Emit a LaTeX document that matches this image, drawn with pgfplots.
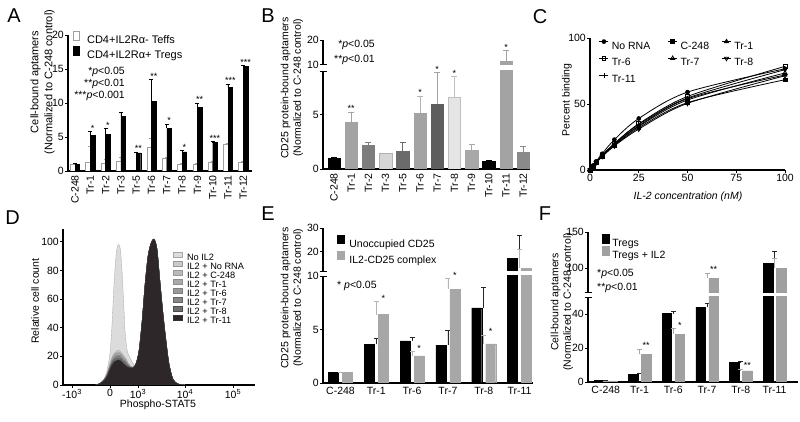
\documentclass[border=0pt]{standalone}
\usepackage{fontspec}
\setmainfont{Liberation Sans}
\usepackage{pgfplots}
\pgfplotsset{compat=1.18}
\usepackage{pgfplotstable}

\definecolor{bA}{HTML}{A3A3A3}
\definecolor{bB}{HTML}{7D7D7D}
\definecolor{bC}{HTML}{D6D6D6}
\definecolor{bD}{HTML}{6B6B6B}
\definecolor{bE}{HTML}{5E5E5E}
\definecolor{bF}{HTML}{E5E5E5}
\definecolor{bG}{HTML}{A8A8A8}
\definecolor{bH}{HTML}{8A8A8A}
\definecolor{gE}{HTML}{A7A7A7}
\definecolor{gEe}{HTML}{B5B5B5}
\definecolor{gF}{HTML}{A0A0A0}
\definecolor{gFe}{HTML}{A8A8A8}
\definecolor{h0}{HTML}{DCDCDC}
\definecolor{h1}{HTML}{CACACA}
\definecolor{h2}{HTML}{BABABA}
\definecolor{h3}{HTML}{A9A9A9}
\definecolor{h4}{HTML}{989898}
\definecolor{h5}{HTML}{888888}
\definecolor{h6}{HTML}{6E6E6E}
\definecolor{h7}{HTML}{2E2729}

\pgfplotsset{
  base/.style={scale only axis, anchor=south west, axis x line*=bottom, axis y line*=left,
    axis line style={line width=1.1pt, black}, tick style={line width=0.9pt, black},
    major tick length=3pt, tick align=outside,
    tick label style={font=\fontsize{10.5}{12}\selectfont, inner sep=1pt},
    /pgf/number format/assume math mode=true, legend cell align=left},
  errb/.style 2 args={/pgfplots/error bars/y dir=plus, /pgfplots/error bars/y explicit,
    /pgfplots/error bars/error bar style={line width=0.8pt, color=#1},
    /pgfplots/error bars/error mark options={rotate=90, mark size=#2, line width=0.8pt, color=#1}},
  stars/.style={draw=none, mark=none, forget plot, nodes near coords, point meta=explicit symbolic,
    nodes near coords style={anchor=south, inner sep=0pt, font=\fontsize{9}{9}\selectfont, text=black, xshift=#1}},
  cap/.style={extra y ticks={#1}, extra y tick labels={}, extra y tick style={tick align=center, major tick length=7pt}},
}

\pgfplotstableread{
x n a b c d e f g
-14 0 0 0 0 0 0 0 0
-10 1 1.4 1.3 1.3 1.2 1.1 1.1 1
-6 4 4.1 3.9 3.8 3.6 3.4 3.2 3
-3 10 8.2 7.9 7.6 7.2 6.8 6.5 6
0 22 15.1 14.4 13.9 13.2 12.5 11.9 11
2 42 19.2 18.3 17.6 16.8 16 15.1 14
4 70 21.9 21 20.2 19.2 18.2 17.3 16
6 90 23.3 22.3 21.4 20.4 19.4 18.4 17
7.5 97 24 22.9 22 21 20 18.9 17.5
9 98 24 22.9 22 21 20 18.9 17.5
10.5 94 23.3 22.3 21.4 20.4 19.4 18.4 17
12 80 21.9 21 20.2 19.2 18.2 17.3 16
13.5 60 20.6 19.7 18.9 18 17.1 16.2 15
15 38 19.2 18.3 17.6 16.8 16 15.1 14
16.5 27 17.8 17 16.4 15.6 14.8 14 13
18 22 15.5 15 14.6 14.2 13.8 13.2 12.5
20 19 13.5 13.3 13.1 12.9 12.6 12.3 12
23 15 12.5 12.4 12.3 12.2 12.1 12 12
26 11 15 15 15 15 15 15 15
29 8 24 24 24 24 24 24 24
32 6 44 44 44 44 44 44 44
35 4.5 70 70 70 70 70 70 70
38 3.5 90 90 90 90 90 90 90
41 2.5 99 99 99 99 99 99 99
44 2 102 102 102 102 102 102 102
47 1.5 95 95 95 95 95 95 95
50 1.2 72 72 72 72 72 72 72
53 1 50 50 50 50 50 50 50
56 0.8 31 31 31 31 31 31 31
59 0.5 15 15 15 15 15 15 15
63 0.3 4 4 4 4 4 4 4
68 0.1 0.8 0.8 0.8 0.8 0.8 0.8 0.8
75 0 0 0 0 0 0 0 0
}\histD

\begin{document}
\begin{tikzpicture}
\useasboundingbox (0,0) rectangle (800pt,422pt);

% ================= A =================
\begin{axis}[base, at={(68pt,251pt)}, width=184pt, height=136pt,
  xmin=-0.4575, xmax=11.569, ymin=0, ymax=20, ytick={0,5,10,15,20},
  xtick={0,...,11}, xticklabels={C-248,Tr-1,Tr-2,Tr-3,Tr-5,Tr-6,Tr-7,Tr-8,Tr-9,Tr-10,Tr-11,Tr-12},
  xticklabel style={rotate=90, anchor=east}, xtick style={draw=none},
  legend style={at={(axis description cs:0.0245,1.029)}, anchor=north west, draw=none, fill=none,
    inner sep=0pt, outer sep=0pt, row sep=2pt, font=\fontsize{11}{12}\selectfont,
    nodes={inner sep=0pt, text height=8pt, text depth=0pt}},
  legend image code/.code={\draw[#1] (0pt,-0.5pt) rectangle (6pt,8.5pt); \path (14pt,0pt);}]
\addplot[ybar, bar width=4.5pt, bar shift=-2.3pt, fill=white, draw=gray!75, line width=0.6pt, errb={gray!75}{2pt}]
  coordinates {(0,1.0)+-(0,0.05) (1,1.33)+-(0,2.3) (2,1.2)+-(0,0.45) (3,1.4)+-(0,0.6) (5,3.5)+-(0,1.3) (6,1.8)+-(0,0.2) (7,1.05)+-(0,0.05) (8,1.05)+-(0,0.05) (9,1.3)+-(0,0.05) (10,3.9)+-(0,0.2) (11,1.3)+-(0,0.05)};
\addlegendentry{CD4+IL2Rα- Teffs}
\addplot[ybar, bar width=4.5pt, bar shift=2.3pt, fill=black, draw=black, line width=0.4pt, errb={black}{2pt}]
  coordinates {(0,1.0)+-(0,0.05) (1,5.25)+-(0,0.6) (2,5.35)+-(0,0.9) (3,8.05)+-(0,0.5) (4,2.65)+-(0,0.15) (5,10.2)+-(0,3.2) (6,6.25)+-(0,0.65) (7,2.8)+-(0,0.25) (8,9.35)+-(0,0.65) (9,4.2)+-(0,0.1) (10,12.3)+-(0,0.5) (11,15.4)+-(0,0.1)};
\addlegendentry{CD4+IL2Rα+ Tregs}
\addplot[stars=2.3pt] coordinates {(1,5.85)[*] (2,6.25)[*] (4,2.8)[**] (5,13.4)[**] (6,6.9)[*] (7,3.05)[*] (8,10.0)[**] (9,4.3)[***] (10,12.8)[***] (11,15.5)[***]};
\end{axis}

% ================= B lower =================
\begin{axis}[base, at={(323pt,253pt)}, width=207pt, height=98pt,
  xmin=-0.64, xmax=11.395, ymin=0, ymax=9, ytick={0,5}, cap=9,
  xtick={0,...,11}, xticklabels={C-248,Tr-1,Tr-2,Tr-3,Tr-5,Tr-6,Tr-7,Tr-8,Tr-9,Tr-10,Tr-11,Tr-12},
  xticklabel style={rotate=90, anchor=east}, xtick style={draw=none}]
\addplot[ybar, bar width=12.5pt, bar shift=0pt, fill=black, draw=black, errb={black}{3pt}] coordinates {(0,1.0)+-(0,0.03)};
\addplot[ybar, bar width=12.5pt, bar shift=0pt, fill=bA, draw=bA, errb={bA}{3pt}] coordinates {(1,4.33)+-(0,0.91)};
\addplot[ybar, bar width=12.5pt, bar shift=0pt, fill=bB, draw=bB, errb={bB}{3pt}] coordinates {(2,2.15)+-(0,0.27)};
\addplot[ybar, bar width=12.5pt, bar shift=0pt, fill=bC, draw=gray!60, errb={gray!60}{3pt}] coordinates {(3,1.45)+-(0,0.0)};
\addplot[ybar, bar width=12.5pt, bar shift=0pt, fill=bD, draw=bD, errb={bD}{3pt}] coordinates {(4,1.67)+-(0,0.75)};
\addplot[ybar, bar width=12.5pt, bar shift=0pt, fill=bA, draw=bA, errb={bA!80}{3pt}] coordinates {(5,5.1)+-(0,1.6)};
\addplot[ybar, bar width=12.5pt, bar shift=0pt, fill=bE, draw=bE, errb={bA}{3pt}] coordinates {(6,5.94)+-(0,2.94)};
\addplot[ybar, bar width=12.5pt, bar shift=0pt, fill=bF, draw=gray!50, errb={gray!50}{3pt}] coordinates {(7,6.6)+-(0,1.9)};
\addplot[ybar, bar width=12.5pt, bar shift=0pt, fill=bG, draw=bG, errb={bG}{3pt}] coordinates {(8,1.76)+-(0,0.54)};
\addplot[ybar, bar width=12.5pt, bar shift=0pt, fill=black, draw=black, errb={black}{3pt}] coordinates {(9,0.76)+-(0,0.0)};
\addplot[ybar, bar width=12.5pt, bar shift=0pt, fill=bA, draw=bA] coordinates {(10,11.3)};
\addplot[ybar, bar width=12.5pt, bar shift=0pt, fill=bH, draw=bH, errb={bH}{3pt}] coordinates {(11,1.55)+-(0,0.51)};
\addplot[stars=0pt] coordinates {(1,5.24)[**] (5,6.7)[*] (6,8.88)[*] (7,8.5)[*]};
\end{axis}
% ================= B upper =================
\begin{axis}[base, at={(323pt,357.5pt)}, width=207pt, height=24.5pt,
  xmin=-0.64, xmax=11.395, ymin=10, ymax=20, ytick={10,20}, cap=10, hide x axis]
\addplot[ybar, bar width=12.5pt, bar shift=0pt, fill=bA, draw=bA, errb={bA}{3pt}] coordinates {(10,11.3)+-(0,4.3)};
\addplot[stars=0pt] coordinates {(10,15.6)[*]};
\end{axis}

% ================= C =================
\begin{axis}[base, at={(590pt,252pt)}, width=195pt, height=132pt,
  xmin=0, xmax=100, ymin=0, ymax=100, xtick={0,25,50,75,100}, ytick={0,50,100},
  legend columns=3,
  legend style={at={(axis description cs:0.046,0.991)}, anchor=north west, draw=none, fill=none,
    inner sep=0pt, outer sep=0pt, row sep=6.9pt, font=\fontsize{10.5}{12}\selectfont,
    nodes={inner sep=0pt, text height=7.6pt, text depth=0pt}},
  legend image code/.code={\draw[mark repeat=2, mark phase=2, #1] plot coordinates {(0pt,3.7pt) (4.5pt,3.7pt) (9pt,3.7pt)}; \path (12pt,0pt);},
  every axis plot/.append style={black, line width=0.8pt, smooth, mark size=2pt, mark options={solid, line width=0.6pt}}]
\addplot[mark=*] coordinates {(0,0) (0.78,1.7) (1.56,3.3) (3.125,6.5) (6.25,12.3) (12.5,23) (25,39) (50,59) (100,76.7)};
\addlegendentry{\makebox[56pt][l]{No RNA}}
\addplot[mark=square*, mark size=1.9pt] coordinates {(0,0) (0.78,1.4) (1.56,2.8) (3.125,5.5) (6.25,10.3) (12.5,18.5) (25,32) (50,51) (100,68.4)};
\addlegendentry{\makebox[41pt][l]{C-248}}
\addplot[mark=triangle*, mark size=2.4pt] coordinates {(0,0) (0.78,1.5) (1.56,3) (3.125,5.8) (6.25,10.9) (12.5,19.5) (25,33.5) (50,54) (100,72)};
\addlegendentry{Tr-1}
\addplot[mark=square, mark size=1.9pt, mark options={fill=white}] coordinates {(0,0) (0.78,1.5) (1.56,3) (3.125,5.8) (6.25,11) (12.5,20) (25,35) (50,55.7) (100,78.5)};
\addlegendentry{\makebox[56pt][l]{Tr-6}}
\addplot[mark=triangle, mark size=2.4pt, mark options={fill=white}] coordinates {(0,0) (0.78,1.5) (1.56,2.9) (3.125,5.7) (6.25,10.8) (12.5,19.2) (25,33) (50,53) (100,73.5)};
\addlegendentry{\makebox[41pt][l]{Tr-7}}
\addplot[mark=triangle, mark size=2.4pt, mark options={fill=white, rotate=180}] coordinates {(0,0) (0.78,1.4) (1.56,2.7) (3.125,5.4) (6.25,10.2) (12.5,18.2) (25,31) (50,50.5) (100,71.4)};
\addlegendentry{Tr-8}
\addplot[mark=+, mark size=2.4pt] coordinates {(0,0) (0.78,1.5) (1.56,3) (3.125,5.9) (6.25,11) (12.5,20) (25,34.5) (50,54.5) (100,76)};
\addlegendentry{Tr-11}
\end{axis}

% ================= D =================
\begin{axis}[base, at={(63pt,37pt)}, width=192pt, height=156pt,
  xmin=-47, xmax=145, ymin=0, ymax=109, ytick={0,20,40,60,80,100},
  xtick={-38,0,28,75,123}, xticklabels={-10\textsuperscript{3},0,10\textsuperscript{3},10\textsuperscript{4},10\textsuperscript{5}},
  legend style={at={(axis description cs:0.573,0.855)}, anchor=north west, draw=none, fill=none,
    inner sep=0pt, outer sep=0pt, row sep=0.3pt, font=\fontsize{9.2}{10}\selectfont,
    nodes={inner sep=0pt, text height=6.5pt, text depth=0pt}},
  legend image code/.code={\draw[#1] (0pt,0pt) rectangle (8.5pt,5.3pt); \path (13.7pt,0pt);},
  every axis plot/.append style={smooth, line width=0.3pt}]
\addplot[fill=h0, draw=gray!70] table[x=x,y=n]{\histD} \closedcycle; \addlegendentry{No IL2}
\addplot[fill=h1, draw=gray!80] table[x=x,y=a]{\histD} \closedcycle; \addlegendentry{IL2 + No RNA}
\addplot[fill=h2, draw=gray!80] table[x=x,y=b]{\histD} \closedcycle; \addlegendentry{IL2 + C-248}
\addplot[fill=h3, draw=gray!90] table[x=x,y=c]{\histD} \closedcycle; \addlegendentry{IL2 + Tr-1}
\addplot[fill=h4, draw=gray] table[x=x,y=d]{\histD} \closedcycle; \addlegendentry{IL2 + Tr-6}
\addplot[fill=h5, draw=black!60] table[x=x,y=e]{\histD} \closedcycle; \addlegendentry{IL2 + Tr-7}
\addplot[fill=h6, draw=black!70] table[x=x,y=f]{\histD} \closedcycle; \addlegendentry{IL2 + Tr-8}
\addplot[fill=h7, draw=black!80] table[x=x,y=g]{\histD} \closedcycle; \addlegendentry{IL2 + Tr-11}
\end{axis}

% ================= E lower =================
\begin{axis}[base, at={(323pt,39pt)}, width=210pt, height=107pt,
  xmin=-0.489, xmax=5.377, ymin=0, ymax=10, ytick={0,5,10}, cap=10,
  xtick={0,...,5}, xticklabels={C-248,Tr-1,Tr-6,Tr-7,Tr-8,Tr-11}, xtick style={draw=none},
  legend style={at={(axis description cs:0.0667,1.3785)}, anchor=north west, draw=none, fill=none,
    inner sep=0pt, outer sep=0pt, row sep=4pt, font=\fontsize{10.5}{12}\selectfont,
    nodes={inner sep=0pt, text height=7.8pt, text depth=0pt}},
  legend image code/.code={\draw[#1] (0pt,-0.2pt) rectangle (6.5pt,7.8pt); \path (12pt,0pt);}]
\addplot[ybar, bar width=10pt, bar shift=-7pt, fill=black, draw=black, errb={black!85}{2.5pt}]
  coordinates {(0,1)+-(0,0) (1,3.6)+-(0,0.55) (2,3.94)+-(0,0.36) (3,3.53)+-(0,1.41) (4,7.03)+-(0,1.91)};
\addlegendentry{Unoccupied CD25}
\addplot[ybar, bar width=10pt, bar shift=7pt, fill=gE, draw=gE, errb={gEe}{2.5pt}]
  coordinates {(0,1)+-(0,0.02) (1,6.4)+-(0,1.2) (2,2.53)+-(0,0.44) (3,8.75)+-(0,1.03) (4,3.66)+-(0,0.81)};
\addlegendentry{IL2-CD25 complex}
\addplot[ybar, bar width=10pt, bar shift=-7pt, fill=black, draw=black, forget plot] coordinates {(5,17.5)};
\addplot[ybar, bar width=10pt, bar shift=7pt, fill=gE, draw=gE, forget plot] coordinates {(5,13.3)};
\addplot[stars=7pt] coordinates {(1,7.6)[*] (2,2.97)[*] (3,9.78)[*] (4,4.47)[*]};
\end{axis}
% ================= E upper =================
\begin{axis}[base, at={(323pt,151pt)}, width=210pt, height=43pt,
  xmin=-0.489, xmax=5.377, ymin=12, ymax=30, ytick={20,30}, cap=12, hide x axis]
\addplot[ybar, bar width=10pt, bar shift=-7pt, fill=black, draw=black, errb={black!85}{2.5pt}] coordinates {(5,17.5)+-(0,9.5)};
\addplot[ybar, bar width=10pt, bar shift=7pt, fill=gE, draw=gE, errb={gEe}{2.5pt}] coordinates {(5,13.3)+-(0,7.7)};
\end{axis}

% ================= F lower =================
\begin{axis}[base, at={(588pt,40pt)}, width=210pt, height=85pt,
  xmin=-0.526, xmax=5.696, ymin=0, ymax=50, ytick={0,20,40}, cap=50,
  xtick={0,...,5}, xticklabels={C-248,Tr-1,Tr-6,Tr-7,Tr-8,Tr-11}, xtick style={draw=none},
  legend style={at={(axis description cs:0.0667,1.747)}, anchor=north west, draw=none, fill=none,
    inner sep=0pt, outer sep=0pt, row sep=0pt, font=\fontsize{10.5}{12}\selectfont,
    nodes={inner sep=0pt, text height=7.8pt, text depth=0pt}},
  legend image code/.code={\draw[#1] (0pt,-0.5pt) rectangle (6.5pt,8.5pt); \path (10pt,0pt);}]
\addplot[ybar, bar width=9.5pt, bar shift=-6.5pt, fill=black, draw=black, errb={black!85}{2.5pt}]
  coordinates {(0,0.8)+-(0,0) (1,4.7)+-(0,0.3) (2,40.2)+-(0,1.6) (3,44.1)+-(0,1.9) (4,11.4)+-(0,0.6)};
\addlegendentry{Tregs}
\addplot[ybar, bar width=9.5pt, bar shift=6.5pt, fill=gF, draw=gF, errb={gFe}{2.5pt}]
  coordinates {(0,0.6)+-(0,0) (1,16.3)+-(0,3.1) (2,28.2)+-(0,3.4) (4,6.6)+-(0,1.0)};
\addlegendentry{Tregs + IL2}
\addplot[ybar, bar width=9.5pt, bar shift=-6.5pt, fill=black, draw=black, forget plot] coordinates {(5,107)};
\addplot[ybar, bar width=9.5pt, bar shift=6.5pt, fill=gF, draw=gF, forget plot] coordinates {(3,86) (5,100)};
\addplot[stars=6.5pt] coordinates {(1,19.4)[**] (2,31.6)[*] (4,7.6)[**]};
\end{axis}
% ================= F upper =================
\begin{axis}[base, at={(588pt,129.5pt)}, width=210pt, height=60.5pt,
  xmin=-0.526, xmax=5.696, ymin=66, ymax=150, ytick={100,150}, cap=66, hide x axis]
\addplot[ybar, bar width=9.5pt, bar shift=-6.5pt, fill=black, draw=black, errb={black!85}{2.5pt}] coordinates {(5,107)+-(0,16.6)};
\addplot[ybar, bar width=9.5pt, bar shift=6.5pt, fill=gF, draw=gF, errb={gFe}{2.5pt}] coordinates {(3,86)+-(0,7) (5,100)+-(0,14)};
\addplot[stars=6.5pt] coordinates {(3,93)[**]};
\end{axis}

% ================= texts =================
\begin{scope}[every node/.style={inner sep=0pt}]
\node[font=\fontsize{20}{20}\selectfont] at (14pt,406pt) {A};
\node[font=\fontsize{20}{20}\selectfont] at (268pt,406pt) {B};
\node[font=\fontsize{20}{20}\selectfont] at (540pt,405.5pt) {C};
\node[font=\fontsize{20}{20}\selectfont] at (12.5pt,204.5pt) {D};
\node[font=\fontsize{20}{20}\selectfont] at (268pt,208pt) {E};
\node[font=\fontsize{20}{20}\selectfont] at (545pt,208.5pt) {F};

\node[rotate=90, align=center, font=\fontsize{11}{14}\selectfont] at (42.5pt,340pt) {Cell-bound aptamers\\(Normalized to C-248 control)};
\node[rotate=90, align=center, font=\fontsize{10.5}{12.5}\selectfont] at (292pt,334pt) {CD25 protein-bound aptamers\\(Normalized to C-248 control)};
\node[rotate=90, font=\fontsize{10.5}{12}\selectfont] at (567pt,322pt) {Percent binding};
\node[font=\fontsize{10.5}{12}\selectfont] at (688pt,225pt) {\textit{IL-2 concentration (nM)}};
\node[rotate=90, font=\fontsize{10.5}{12}\selectfont] at (35pt,121pt) {Relative cell count};
\node[font=\fontsize{10.5}{12}\selectfont] at (158pt,17pt) {Phospho-STAT5};
\node[rotate=90, align=center, font=\fontsize{10.5}{12.5}\selectfont] at (292pt,124pt) {CD25 protein-bound aptamers\\(Normalized to C-248 control)};
\node[rotate=90, align=center, font=\fontsize{10.5}{12.5}\selectfont] at (562pt,120pt) {Cell-bound aptamers\\(Normalized to C-248 control)};

\node[anchor=base east, font=\fontsize{10.5}{12}\selectfont] at (125pt,347.2pt) {*\textit{p}<0.05};
\node[anchor=base east, font=\fontsize{10.5}{12}\selectfont] at (125pt,335.2pt) {**\textit{p}<0.01};
\node[anchor=base east, font=\fontsize{10.5}{12}\selectfont] at (125pt,323.2pt) {***\textit{p}<0.001};
\node[anchor=base east, font=\fontsize{10.5}{12}\selectfont] at (375pt,374.9pt) {*\textit{p}<0.05};
\node[anchor=base east, font=\fontsize{10.5}{12}\selectfont] at (375pt,359.9pt) {**\textit{p}<0.01};
\node[anchor=base west, font=\fontsize{10.5}{12}\selectfont] at (337pt,133.2pt) {* \textit{p}<0.05};
\node[anchor=base west, font=\fontsize{10.5}{12}\selectfont] at (597pt,145.5pt) {*\textit{p}<0.05};
\node[anchor=base west, font=\fontsize{10.5}{12}\selectfont] at (597pt,131.5pt) {**\textit{p}<0.01};
\end{scope}
\end{tikzpicture}
\end{document}
